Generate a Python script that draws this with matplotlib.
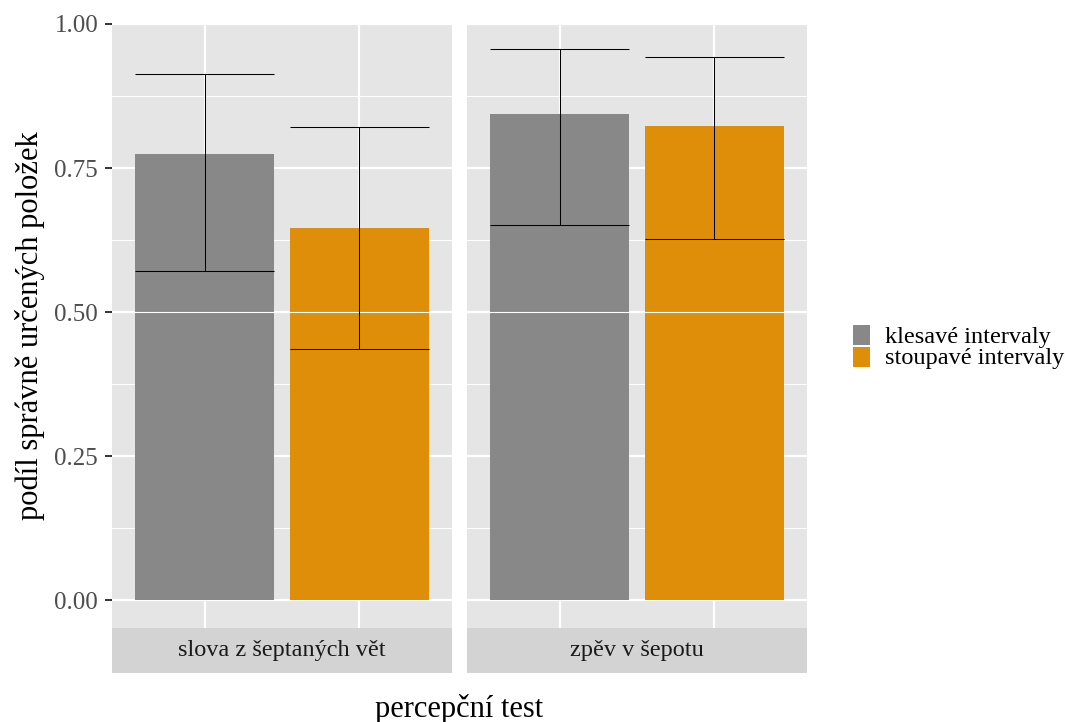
import matplotlib
matplotlib.use("Agg")
import matplotlib.pyplot as plt
from matplotlib.patches import Rectangle

plt.rcParams['font.family'] = ['Liberation Serif', 'DejaVu Serif']

# data
tests = ["slova z šeptaných vět", "zpěv v šepotu"]
directions = ["klesavé intervaly", "stoupavé intervaly"]
means = {
    "slova z šeptaných vět": [0.774, 0.645],
    "zpěv v šepotu": [0.844, 0.823],
}
lower = {
    "slova z šeptaných vět": [0.571, 0.436],
    "zpěv v šepotu": [0.651, 0.627],
}
upper = {
    "slova z šeptaných vět": [0.914, 0.821],
    "zpěv v šepotu": [0.956, 0.943],
}
colors = ["#888888", "#DF8E0A"]
y_ticks = [0.00, 0.25, 0.50, 0.75, 1.00]
y_ticklabels = ["0.00", "0.25", "0.50", "0.75", "1.00"]

W, H = 1065, 722
fig = plt.figure(figsize=(W / 100, H / 100), dpi=100)

panel_bg = "#E5E5E5"
strip_bg = "#D3D3D3"

panels = [(112, 452), (467, 807)]
top_px, bottom_px, strip_bottom = 24, 628, 673

def fx(px):
    return px / W

def fy(py):
    return 1 - py / H

for k, (test, (x0, x1)) in enumerate(zip(tests, panels)):
    ax = fig.add_axes([fx(x0), fy(bottom_px), fx(x1 - x0), (bottom_px - top_px) / H])
    ax.set_facecolor(panel_bg)
    ax.set_xlim(0.4, 2.6)
    ax.set_ylim(-0.0486, 1.0)
    for s in ax.spines.values():
        s.set_visible(False)
    # grid
    for yv in y_ticks:
        ax.axhline(yv, color="white", lw=1.6, zorder=0.5)
    for yv in [0.125, 0.375, 0.625, 0.875]:
        ax.axhline(yv, color="white", lw=0.8, zorder=0.5)
    for xv in [1, 2]:
        ax.axvline(xv, color="white", lw=1.6, zorder=0.5)
    xs = [1, 2]
    ax.bar(xs, means[test], width=0.9, color=colors, zorder=1)
    # chance level
    ax.axhline(0.5, color="white", lw=0.8, zorder=1.5)
    lo = [m - l for m, l in zip(means[test], lower[test])]
    hi = [u - m for m, u in zip(means[test], upper[test])]
    ax.errorbar(xs, means[test], yerr=[lo, hi], fmt="none", ecolor="black",
                elinewidth=0.75, capsize=0, zorder=2)
    for x, l, u in zip(xs, lower[test], upper[test]):
        ax.hlines([l, u], x - 0.45, x + 0.45, color="black", lw=0.75, zorder=2)
    ax.set_xticks([])
    if k == 0:
        ax.set_yticks(y_ticks)
        ax.set_yticklabels(y_ticklabels)
        ax.tick_params(axis="y", length=5, width=1.4, color="#333333",
                       labelcolor="#4D4D4D", labelsize=18, pad=5)
    else:
        ax.set_yticks([])
    # strip below panel
    sax = fig.add_axes([fx(x0), fy(strip_bottom), fx(x1 - x0), (strip_bottom - bottom_px) / H])
    sax.set_facecolor(strip_bg)
    sax.set_xticks([]); sax.set_yticks([])
    for s in sax.spines.values():
        s.set_visible(False)
    sax.text(0.5, 0.5, test, ha="center", va="center", fontsize=17.5,
             color="#1A1A1A", transform=sax.transAxes)

fig.text(fx(459.5), fy(717), "percepční test", ha="center", va="baseline", fontsize=22)
fig.text(fx(30), fy(326), "podíl správně určených položek", ha="center", va="center",
         rotation=90, fontsize=22)

# legend
for i, (lab, c) in enumerate(zip(directions, colors)):
    ky = 325 + i * 22
    fig.patches.append(Rectangle((fx(853), fy(ky + 20)), fx(17), 20 / H,
                                 facecolor=c, edgecolor="none",
                                 transform=fig.transFigure, figure=fig))
    fig.text(fx(885), fy(343 + i * 21), lab, ha="left", va="baseline", fontsize=17.5)

fig.savefig("out.png", dpi=100)
